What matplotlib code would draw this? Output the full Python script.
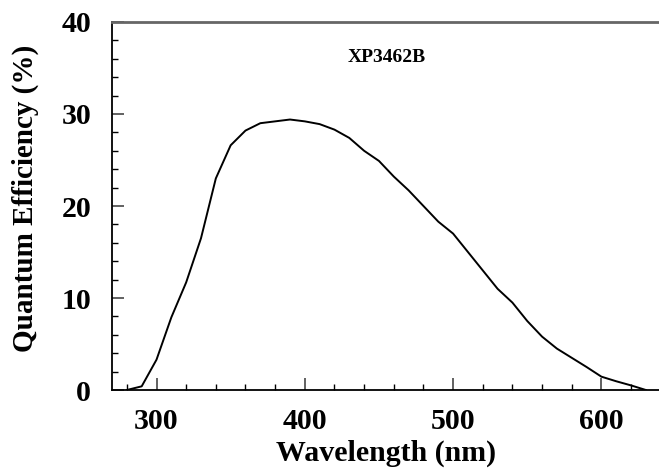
import numpy as np
import matplotlib; matplotlib.use("Agg")
import matplotlib.pyplot as plt
from matplotlib.ticker import MultipleLocator

# spectral response
wavelength = [280, 290, 300, 310, 320, 330, 340, 350, 360, 370, 380, 390, 400,
              410, 420, 430, 440, 450, 460, 470, 480, 490, 500, 510, 520, 530,
              540, 550, 560, 570, 580, 590, 600, 610, 620, 630]
qe = [0.0, 0.4, 3.3, 7.9, 11.7, 16.5, 23.0, 26.6, 28.2, 29.0, 29.2, 29.4, 29.2,
      28.9, 28.3, 27.4, 26.0, 24.9, 23.2, 21.7, 20.0, 18.3, 17.0, 15.0, 13.0, 11.0,
      9.5, 7.5, 5.8, 4.5, 3.5, 2.5, 1.45, 0.95, 0.5, 0.0]
x_ticks = [300, 400, 500, 600]
y_ticks = [0, 10, 20, 30, 40]
tube = "XP3462B"

plt.rcParams["font.family"] = ["Liberation Serif", "DejaVu Serif"]

fig = plt.figure(figsize=(6.59, 4.70), dpi=100)
ax = fig.add_axes([0.170, 0.1702, 0.8326, 0.783])

ax.plot(wavelength, qe, color="black", lw=1.4)
ax.set_xlim(270, 640); ax.set_ylim(0, 40)
ax.set_xticks(x_ticks); ax.set_yticks(y_ticks)
ax.xaxis.set_minor_locator(MultipleLocator(20))
ax.yaxis.set_minor_locator(MultipleLocator(2))

ax.tick_params(which="both", direction="in", top=False, right=False)
ax.tick_params(which="major", length=8.5, width=1.3, color="#555555",
               labelsize=21.5)
ax.tick_params(which="minor", length=4, width=1.0, color="black")
ax.tick_params(axis="x", which="major", pad=13)
ax.tick_params(axis="y", which="major", pad=15)
for lab in ax.get_xticklabels() + ax.get_yticklabels():
    lab.set_fontweight("bold")

ax.spines["right"].set_visible(False)
ax.spines["top"].set_color("#666666"); ax.spines["top"].set_linewidth(2.0)
ax.spines["left"].set_linewidth(1.3); ax.spines["bottom"].set_linewidth(1.3)

ax.set_xlabel("Wavelength (nm)", fontsize=21.5, fontweight="bold")
ax.xaxis.set_label_coords(0.5, -0.193)
ax.xaxis.label.set_va("baseline")
ax.set_ylabel("Quantum Efficiency (%)", fontsize=21, fontweight="bold")
ax.yaxis.set_label_coords(-0.1586, 0.522)
ax.yaxis.label.set_va("center")

ax.text(0.5, 0.904, tube, transform=ax.transAxes, ha="center", va="center",
        fontsize=14, fontweight="bold")

fig.savefig("out.png", dpi=100)
